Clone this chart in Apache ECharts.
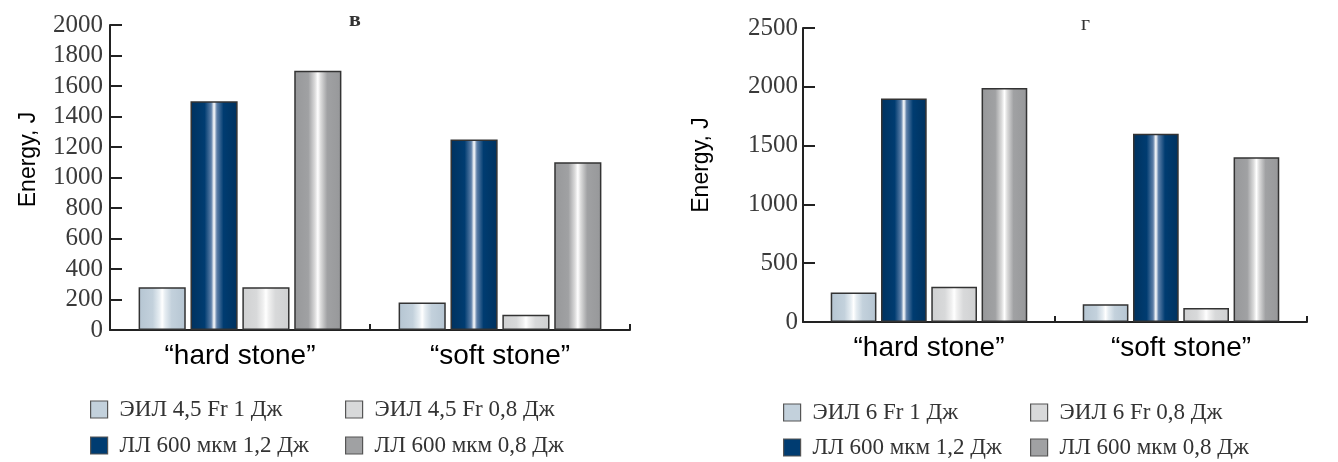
<!DOCTYPE html>
<html>
<head>
<meta charset="utf-8">
<script src="https://cdn.jsdelivr.net/npm/echarts@6/dist/echarts.min.js"></script>
<style>
  html, body { margin: 0; padding: 0; background: #fff; }
  #chart { width: 1338px; height: 462px; }
</style>
</head>
<body>
<div id="chart"></div>
<script>
  // data
  var categories = ['\u201chard stone\u201d', '\u201csoft stone\u201d']

  var namesB = ['ЭИЛ 4,5 Fr 1 Дж', 'ЛЛ 600 мкм 1,2 Дж', 'ЭИЛ 4,5 Fr 0,8 Дж', 'ЛЛ 600 мкм 0,8 Дж']
  var eil1B = [280, 180]
  var ll12B = [1500, 1250]
  var eil08B = [280, 100]
  var ll08B = [1700, 1100]

  var namesG = ['ЭИЛ 6 Fr 1 Дж', 'ЛЛ 600 мкм 1,2 Дж', 'ЭИЛ 6 Fr 0,8 Дж', 'ЛЛ 600 мкм 0,8 Дж']
  var eil1G = [250, 150]
  var ll12G = [1900, 1600]
  var eil08G = [300, 120]
  var ll08G = [1990, 1400]

  // colours: flat (legend) and edge/mid for the shaded bars
  var flat = ['#c3d1dc', '#003c71', '#d8d9da', '#a0a1a3']
  var edge = ['#b5c5d2', '#00325f', '#cfd0d1', '#97989a']
  var mid = ['#e6edf2', '#5d7fa8', '#f0f0f0', '#dcdcdc']

  var myChart = echarts.init(document.getElementById('chart'))

  var shade = function (i) {
    return {
      type: 'linear', x: 0, y: 0, x2: 1, y2: 0,
      colorStops: [
        { offset: 0, color: edge[i] },
        { offset: 0.3, color: flat[i] },
        { offset: 0.44, color: mid[i] },
        { offset: 0.5, color: '#ffffff' },
        { offset: 0.56, color: mid[i] },
        { offset: 0.7, color: flat[i] },
        { offset: 1, color: edge[i] }
      ]
    }
  }

  var makeSeries = function (names, lists, idx) {
    return lists.map(function (vals, i) {
      return {
        name: names[i],
        type: 'bar',
        xAxisIndex: idx,
        yAxisIndex: idx,
        barCategoryGap: '22%',
        barGap: '10%',
        itemStyle: {
          color: shade(i),
          borderColor: '#333',
          borderWidth: 1.5
        },
        emphasis: { disabled: true },
        data: vals
      }
    })
  }

  // one legend per item so the 2x2 layout is exact
  var legendAt = function (names, i, left, top) {
    return {
      left: left,
      top: top,
      itemWidth: 17,
      itemHeight: 17,
      icon: 'rect',
      selectedMode: false,
      textStyle: {
        fontFamily: 'Liberation Serif',
        fontSize: 23,
        color: '#333',
        padding: [0, 0, 0, 7]
      },
      data: [{ name: names[i], itemStyle: { color: flat[i], borderColor: '#555', borderWidth: 1.2 } }]
    }
  }

  var xAxisBase = {
    type: 'category',
    data: categories,
    axisLine: { lineStyle: { color: '#222', width: 2 } },
    axisTick: { show: true, inside: true, length: 6, interval: 0, lineStyle: { color: '#222', width: 2 } },
    axisLabel: { fontFamily: 'Liberation Sans', fontSize: 28, color: '#000', margin: 12 }
  }

  var yLabel = {
    fontFamily: 'Liberation Serif',
    fontSize: 25,
    color: '#3a3a3a',
    formatter: function (v) { return String(v) }
  }

  var yAxisBase = {
    type: 'value',
    min: 0,
    name: 'Energy, J',
    nameLocation: 'middle',
    nameRotate: 90,
    axisLine: { show: true, lineStyle: { color: '#222', width: 2 } },
    axisTick: { show: true, inside: true, length: 12, lineStyle: { color: '#222', width: 2 } },
    splitLine: { show: false }
  }

  var option = {
    animation: false,
    title: [
      { text: 'в', left: 344, top: 4, textStyle: { fontFamily: 'Liberation Serif', fontSize: 22, fontWeight: 'bold', color: '#333' } },
      { text: 'г', left: 1076, top: 8, textStyle: { fontFamily: 'Liberation Serif', fontSize: 22, fontWeight: 'normal', color: '#333' } }
    ],
    grid: [
      { left: 110, top: 25, width: 520, height: 305 },
      { left: 803, top: 28, width: 504, height: 294 }
    ],
    xAxis: [
      Object.assign({}, xAxisBase, { gridIndex: 0 }),
      Object.assign({}, xAxisBase, { gridIndex: 1 })
    ],
    yAxis: [
      Object.assign({}, yAxisBase, {
        gridIndex: 0, max: 2000, interval: 200, nameGap: 70,
        nameTextStyle: { fontFamily: 'Liberation Sans', fontSize: 23, color: '#000', padding: [0, 0, 0, 36] },
        axisLabel: Object.assign({}, yLabel, { margin: 7 })
      }),
      Object.assign({}, yAxisBase, {
        gridIndex: 1, max: 2500, interval: 500, nameGap: 90,
        nameTextStyle: { fontFamily: 'Liberation Sans', fontSize: 23, color: '#000', padding: [0, 0, 0, 20] },
        axisLabel: Object.assign({}, yLabel, { margin: 5 })
      })
    ],
    legend: [
      legendAt(namesB, 0, 85, 393),
      legendAt(namesB, 1, 85, 429),
      legendAt(namesB, 2, 340, 393),
      legendAt(namesB, 3, 340, 429),
      legendAt(namesG, 0, 778, 396),
      legendAt(namesG, 1, 778, 431),
      legendAt(namesG, 2, 1025, 396),
      legendAt(namesG, 3, 1025, 431)
    ],
    series: makeSeries(namesB, [eil1B, ll12B, eil08B, ll08B], 0)
      .concat(makeSeries(namesG, [eil1G, ll12G, eil08G, ll08G], 1))
  }

  myChart.setOption(option)
</script>
</body>
</html>
